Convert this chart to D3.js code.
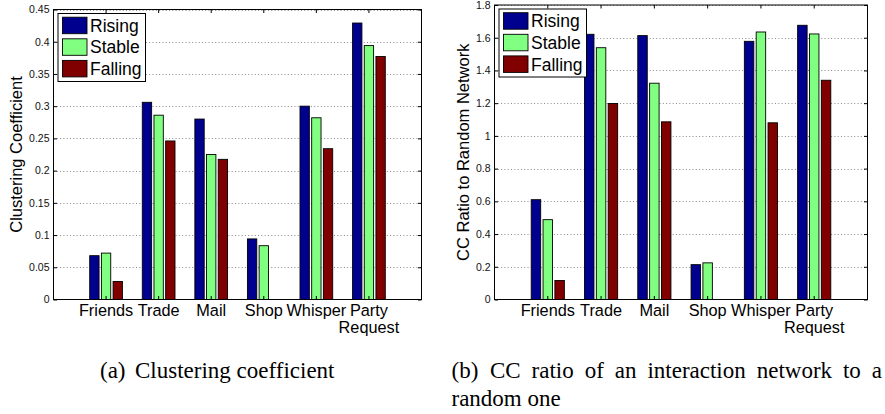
<!DOCTYPE html>
<html>
<head>
<meta charset="utf-8">
<script src="https://cdn.jsdelivr.net/npm/d3@7"></script>
<style>
  body { margin: 0; background: #fff; }
  svg { display: block; }
</style>
</head>
<body>
<svg id="fig" width="885" height="414"></svg>
<script>
// Categories of interaction and the three user groups
const categories = ["Friends", "Trade", "Mail", "Shop", "Whisper", "Party Request"];
const seriesNames = ["Rising", "Stable", "Falling"];
const seriesColors = ["#00008f", "#80ff80", "#800000"];

// (a) clustering coefficient per category
const ccRising  = [0.068, 0.306, 0.280, 0.094, 0.300, 0.429];
const ccStable  = [0.072, 0.286, 0.225, 0.0835, 0.282, 0.394];
const ccFalling = [0.028, 0.246, 0.2175, 0, 0.234, 0.377];
const ccTicks = [0, 0.05, 0.1, 0.15, 0.2, 0.25, 0.3, 0.35, 0.4, 0.45];

// (b) clustering coefficient relative to a random network
const ratioRising  = [0.610, 1.621, 1.613, 0.213, 1.578, 1.676];
const ratioStable  = [0.488, 1.539, 1.322, 0.224, 1.635, 1.623];
const ratioFalling = [0.116, 1.198, 1.086, 0, 1.080, 1.340];
const ratioTicks = [0, 0.2, 0.4, 0.6, 0.8, 1, 1.2, 1.4, 1.6, 1.8];

const SANS = "'Liberation Sans', Arial, Helvetica, sans-serif";
const SERIF = "'Liberation Serif', 'Times New Roman', Times, serif";

const svg = d3.select("#fig");

function drawPanel(cfg) {
  const g = svg.append("g");
  const { left, right, top, bottom } = cfg;

  // One band per category, half a band of margin on each side
  const x = d3.scaleBand().domain(categories).range([left, right])
    .paddingInner(0).paddingOuter(0.5);
  const step = x.step();
  // Grouped bars share two thirds of a category step
  const xs = d3.scaleBand().domain(seriesNames)
    .range([-step / 3, step / 3]).paddingInner(0.2).paddingOuter(0.1);
  const y = d3.scaleLinear().domain([0, cfg.yMax]).range([bottom, top]);

  // dotted horizontal grid
  g.append("g").selectAll("line").data(cfg.ticks.slice(1)).join("line")
    .attr("x1", left).attr("x2", right)
    .attr("y1", d => Math.round(y(d)) + 0.5).attr("y2", d => Math.round(y(d)) + 0.5)
    .attr("stroke", "#8a8a8a").attr("stroke-width", 1)
    .attr("stroke-dasharray", "1,2.3");

  // bars
  const rows = categories.map((c, i) => ({ c, vals: cfg.series.map(s => s[i]) }));
  g.append("g").selectAll("g").data(rows).join("g")
    .attr("transform", d => `translate(${x(d.c) + step / 2},0)`)
    .selectAll("rect").data(d => d.vals.map((v, k) => ({ v, k })))
    .join("rect")
      .attr("x", d => xs(seriesNames[d.k]))
      .attr("width", xs.bandwidth())
      .attr("y", d => y(d.v))
      .attr("height", d => y(0) - y(d.v))
      .attr("fill", d => seriesColors[d.k])
      .attr("stroke", "#000").attr("stroke-width", 0.9)
      .attr("display", d => d.v > 0 ? null : "none");

  // axes with inward ticks on all four sides
  const tickLen = 3.5;
  const yl = g.append("g").attr("transform", `translate(${left},0)`)
    .call(d3.axisLeft(y).tickValues(cfg.ticks).tickSizeInner(-tickLen)
      .tickSizeOuter(0).tickPadding(4).tickFormat(d3.format("~g")));
  yl.selectAll("text").attr("font-size", 10.5).attr("font-family", SANS).attr("fill", "#111");
  g.append("g").attr("transform", `translate(${right},0)`)
    .call(d3.axisRight(y).tickValues(cfg.ticks).tickSizeInner(-tickLen)
      .tickSizeOuter(0).tickFormat(""));
  g.append("g").attr("transform", `translate(0,${top})`)
    .call(d3.axisTop(x).tickSizeInner(-tickLen).tickSizeOuter(0).tickFormat(""));
  g.append("g").attr("transform", `translate(0,${bottom})`)
    .call(d3.axisBottom(x).tickSizeInner(-tickLen).tickSizeOuter(0).tickFormat(""));
  g.selectAll(".domain").remove();
  g.selectAll(".tick line").attr("stroke", "#000");

  // plot frame
  g.append("rect").attr("x", left).attr("y", top)
    .attr("width", right - left).attr("height", bottom - top)
    .attr("fill", "none").attr("stroke", "#000").attr("stroke-width", 1);

  // category labels (multi-word names wrap onto a second line)
  const lab = g.append("g").selectAll("text").data(categories).join("text")
    .attr("x", d => x(d) + step / 2).attr("y", bottom + 16.5)
    .attr("text-anchor", "middle").attr("font-family", SANS).attr("font-size", 16.3);
  lab.each(function (d) {
    const words = d.split(" ");
    const t = d3.select(this);
    words.forEach((w, i) => t.append("tspan")
      .attr("x", x(d) + step / 2).attr("dy", i === 0 ? 0 : 16.5).text(w));
  });

  // y-axis title
  g.append("text")
    .attr("transform", `translate(${cfg.yLabelX},${(top + bottom) / 2}) rotate(-90)`)
    .attr("text-anchor", "middle").attr("font-family", SANS).attr("font-size", 16.5)
    .text(cfg.yLabel);

  // legend
  const lx = left + 4.5, ly = top + 4, lw = 87.5, lh = 68;
  const lg = g.append("g").attr("transform", `translate(${lx},${ly})`);
  lg.append("rect").attr("width", lw).attr("height", lh)
    .attr("fill", "#fff").attr("stroke", "#000").attr("stroke-width", 1);
  const item = lg.selectAll("g").data(seriesNames).join("g")
    .attr("transform", (d, i) => `translate(4.5,${3.7 + i * 21.6})`);
  item.append("rect").attr("width", 24.5).attr("height", 16.5)
    .attr("fill", (d, i) => seriesColors[i]).attr("stroke", "#000").attr("stroke-width", 0.9);
  item.append("text").attr("x", 27.5).attr("y", 14.6)
    .attr("font-family", SANS).attr("font-size", 17.5).text(d => d);

  // caption
  const cap = g.append("g").attr("font-family", SERIF).attr("font-size", 23).attr("fill", "#000");
  cap.append("text").attr("x", cfg.capX).attr("y", 377.5).text(cfg.capTag);
  const lines = cfg.capLines;
  lines.forEach((ln, i) => {
    const t = cap.append("text")
      .attr("x", i === 0 ? cfg.capX + cfg.capIndent : cfg.capX)
      .attr("y", 377.5 + i * 28).text(ln);
    // justify every line except the last one to the caption width
    if (i < lines.length - 1 && cfg.capRight) {
      const spaces = ln.split(" ").length - 1;
      const w = t.node().getComputedTextLength();
      const avail = cfg.capRight - (cfg.capX + cfg.capIndent);
      if (spaces > 0 && avail > w) t.attr("word-spacing", (avail - w) / spaces);
    }
  });
}

drawPanel({
  left: 53.5, right: 421.5, top: 9.5, bottom: 299.5,
  yMax: 0.45, ticks: ccTicks,
  series: [ccRising, ccStable, ccFalling],
  yLabel: "Clustering Coefficient", yLabelX: 22,
  capX: 100, capIndent: 35, capTag: "(a)",
  capLines: ["Clustering coefficient"], capRight: null
});

drawPanel({
  left: 494.5, right: 867.5, top: 5, bottom: 299.5,
  yMax: 1.8, ticks: ratioTicks,
  series: [ratioRising, ratioStable, ratioFalling],
  yLabel: "CC Ratio to Random Network", yLabelX: 469,
  capX: 451.5, capIndent: 38.5, capTag: "(b)",
  capLines: ["CC ratio of an interaction network to a", "random one"], capRight: 882
});
</script>
</body>
</html>
